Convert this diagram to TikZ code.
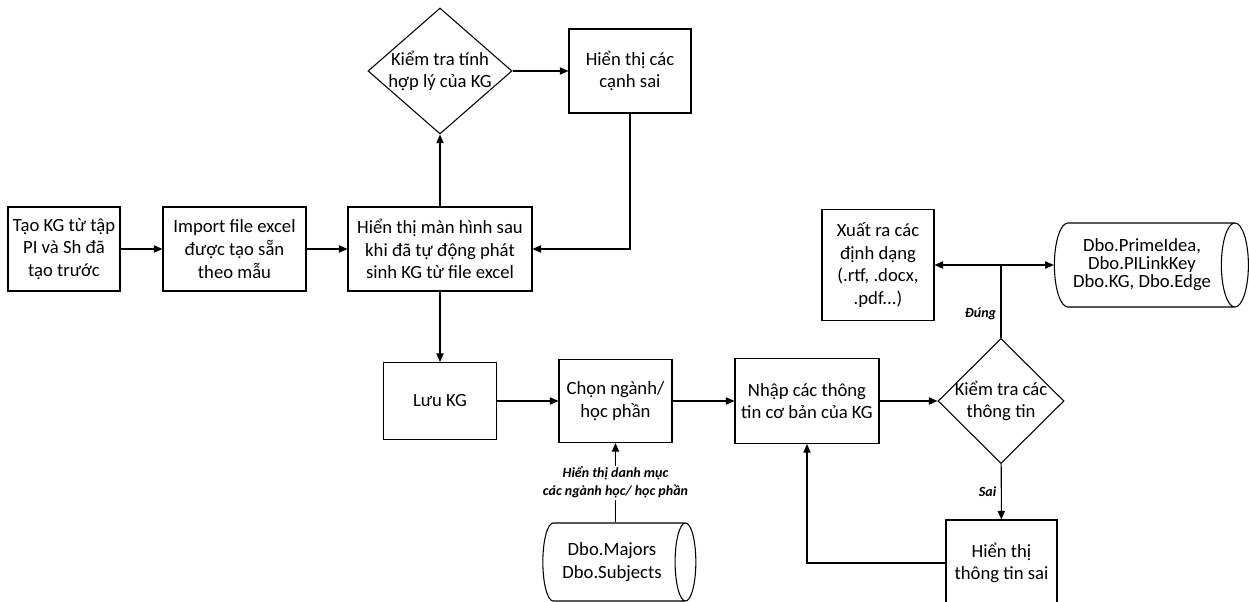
\documentclass[tikz,border=0pt]{standalone}
\usepackage{fontspec}
\setmainfont{Carlito}
\usetikzlibrary{arrows.meta, positioning, shapes.geometric, calc}

\begin{document}
\begin{tikzpicture}[x=0.75pt, y=-0.75pt,
  font=\fontsize{14}{17}\selectfont,
  box/.style={draw, line width=0.8pt, align=center, inner sep=2pt},
  check/.style={diamond, draw, line width=0.8pt, inner sep=0pt},
  store/.style={cylinder, draw, line width=0.8pt, align=center, shape aspect=0.47, inner sep=2pt},
  flow/.style={line width=0.8pt, -{Triangle[length=6.5pt, width=5.5pt]}},
  note/.style={font=\fontsize{10.5}{13.5}\selectfont\bfseries\itshape, align=center}]

  \useasboundingbox (0,0) rectangle (1249,602);

  % top row: tao KG -> import -> hien thi
  \node[box, minimum width=84pt, minimum height=63pt] (taokg) at (64,249) {Tạo KG từ tập\\PI và Sh đã\\tạo trước};
  \node[box, minimum width=107.25pt, minimum height=63pt] (import) at (234.5,249) {Import file excel\\được tạo sẵn\\theo mẫu};
  \node[box, minimum width=138pt, minimum height=63pt] (hienthi) at (440,249) {Hiển thị màn hình sau\\khi đã tự động phát\\sinh KG từ file excel};

  % check of the graph
  \node[check, minimum width=108pt, minimum height=94.5pt] (kiemtra1) at (440,71) {};
  \node[align=center] (kiemtra1txt) at (kiemtra1) {Kiểm tra tính\\hợp lý của KG};
  \node[box, minimum width=91.5pt, minimum height=63pt] (canhsai) at (630,71) {Hiển thị các\\cạnh sai};

  % bottom row
  \node[box, minimum width=84.75pt, minimum height=57.75pt] (luukg) at (440,401) {Lưu KG};
  \node[box, minimum width=84.75pt, minimum height=62.25pt] (chonnganh) at (615.5,401) {Chọn ngành/\\học phần};
  \node[box, minimum width=108pt, minimum height=63.75pt] (nhap) at (807,401) {Nhập các thông\\tin cơ bản của KG};
  \node[check, minimum width=94.5pt, minimum height=93.75pt] (kiemtra2) at (1001,401) {};
  \node[align=center] (kiemtra2txt) at (kiemtra2) {Kiểm tra các\\thông tin};

  % outputs
  \node[box, minimum width=84pt, minimum height=83.25pt] (xuat) at (878,265) {Xuất ra các\\định dạng\\(.rtf, .docx,\\.pdf...)};
  \node[store, minimum width=63pt, minimum height=145.5pt, font=\fontsize{14}{13.5}\selectfont] (dbone) at (1142,265) {Dbo.PrimeIdea,\\Dbo.PILinkKey\\Dbo.KG, Dbo.Edge};
  \node[box, minimum width=83.25pt, minimum height=64.5pt] (saithongtin) at (1001.5,563) {Hiển thị\\thông tin sai};
  \node[store, minimum width=58.5pt, minimum height=114.75pt] (dbtwo) at (612,562) {Dbo.Majors\\Dbo.Subjects};

  % connectors
  \draw[flow] (taokg) -- (import);
  \draw[flow] (import) -- (hienthi);
  \draw[flow] (hienthi) -- (kiemtra1);
  \draw[flow] (kiemtra1) -- (canhsai);
  \draw[flow] (canhsai.south) |- (hienthi.east);
  \draw[flow] (hienthi) -- (luukg);
  \draw[flow] (luukg) -- (chonnganh);
  \draw[flow] (chonnganh) -- (nhap);
  \draw[flow] (nhap) -- (kiemtra2);
  \draw[line width=0.8pt] (kiemtra2.north) -- node[note, pos=0.33, left] (dung) {Đúng} (kiemtra2.north |- xuat.east) coordinate (tach);
  \draw[flow] (tach) -- (xuat.east);
  \draw[flow] (tach) -- (dbone.west);
  \draw[flow] (kiemtra2) -- node[note, left] (sai) {Sai} (saithongtin);
  \draw[flow] (saithongtin.west) -| (nhap.south);
  \draw[flow] (chonnganh.south |- dbtwo.north) -- node[note, fill=white, inner sep=1pt] (danhmuc) {Hiển thị danh mục\\các ngành học/ học phần} (chonnganh.south);

\end{tikzpicture}
\end{document}
